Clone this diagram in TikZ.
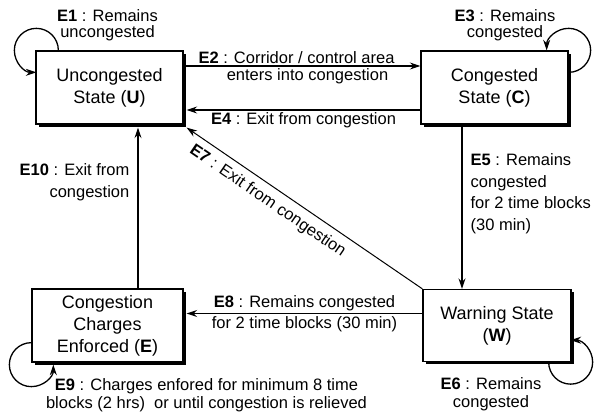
\documentclass[tikz,border=0pt]{standalone}
\usepackage{fontspec}
\setmainfont{Liberation Sans}
\usetikzlibrary{positioning,shadows,arrows.meta}

\begin{document}
\begin{tikzpicture}[x=1pt, y=1pt, >={Stealth[length=10.5pt, width=7pt]}, line width=1.3pt,
    state/.style={draw, fill=white, line width=1.3pt, minimum width=147pt, minimum height=73pt, align=center,
      font=\fontsize{18}{22}\selectfont,
      drop shadow={shadow xshift=3pt, shadow yshift=-3pt, opacity=1, fill=black}},
    lbl/.style={font=\fontsize{16.5}{18}\selectfont, inner sep=2pt}]
          \useasboundingbox (0,0) rectangle (604,417);
          \node[state] (unc) at (109.5,329.5) {Uncongested\\State (\textbf{U})};
          \node[state, right of=unc, node distance=385pt] (cong) {Congested\\State (\textbf{C})};
          \node[state, below of=unc, node distance=238pt, xshift=-2pt, minimum width=151pt] (chg) {Congestion\\Charges\\Enforced (\textbf{E})};
          \node[state, right of=chg, node distance=389.5pt, minimum width=148pt, minimum height=72pt] (warn) {Warning State\\(\textbf{W})};
          % transitions between states
          \draw[->] ([yshift=21.5pt]unc.east) -- node[lbl, above, xshift=-5.5pt] {\textbf{E2} : Corridor / control area} node[lbl, below, xshift=5.5pt] {enters into congestion} ([yshift=21.5pt]unc.east -| cong.west);
          \draw[->] ([yshift=-22.5pt]cong.west) -- node[lbl, below] {\textbf{E4} : Exit from congestion} ([yshift=-22.5pt, xshift=3pt]cong.west -| unc.east);
          \draw[->] ([xshift=-32.5pt]cong.south) -- node[lbl, right, pos=0.42, align=left, xshift=6pt, font=\fontsize{16.5}{21.7}\selectfont] {\textbf{E5} : Remains\\congested\\for 2 time blocks\\(30 min)} ([xshift=-32.5pt]cong.south |- warn.north);
          \draw[->] ([yshift=12pt]warn.west) -- node[lbl, above] {\textbf{E8} : Remains congested} node[lbl, below] {for 2 time blocks (30 min)} ([yshift=12pt, xshift=3pt]warn.west -| chg.east);
          \draw[->] ([xshift=30.5pt]chg.north) -- node[lbl, left, pos=0.66, align=right, xshift=-6pt, font=\fontsize{16.5}{22}\selectfont] {\textbf{E10} : Exit from\\congestion} ([xshift=30.5pt, yshift=-3pt]chg.north |- unc.south);
          \draw[->, line width=1pt] (warn.north west) -- node[lbl, sloped, below=5pt, pos=0.62] {\textbf{E7} : Exit from congestion} ([xshift=3pt, yshift=-3pt]unc.south east);
          % self loops
          \draw[->] ([xshift=23pt]unc.north west) arc[start angle=0, end angle=270, radius=22pt];
          \draw[->] ([yshift=-22pt]cong.north east) arc[start angle=-90, end angle=180, radius=22pt];
          \draw[->] ([xshift=-23pt]warn.south east) arc[start angle=180, end angle=450, radius=22pt];
          \draw[->] ([yshift=20pt]chg.south west) arc[start angle=90, end angle=360, radius=22pt];
          \node[lbl, align=center, above=7pt of unc, xshift=-2pt, font=\fontsize{16.5}{16}\selectfont] (e1) {\textbf{E1} : Remains\\uncongested};
          \node[lbl, align=center, above=6.5pt of cong, xshift=10.5pt, font=\fontsize{16.5}{16}\selectfont] (e3) {\textbf{E3} : Remains\\congested};
          \node[lbl, align=center, below=13pt of warn, xshift=-6pt] (e6) {\textbf{E6} : Remains\\congested};
          \node[lbl, align=center, below=13pt of chg, xshift=99pt] (e9) {\textbf{E9} : Charges enfored for minimum 8 time\\blocks (2 hrs)~ or until congestion is relieved};
        \end{tikzpicture}
\end{document}
